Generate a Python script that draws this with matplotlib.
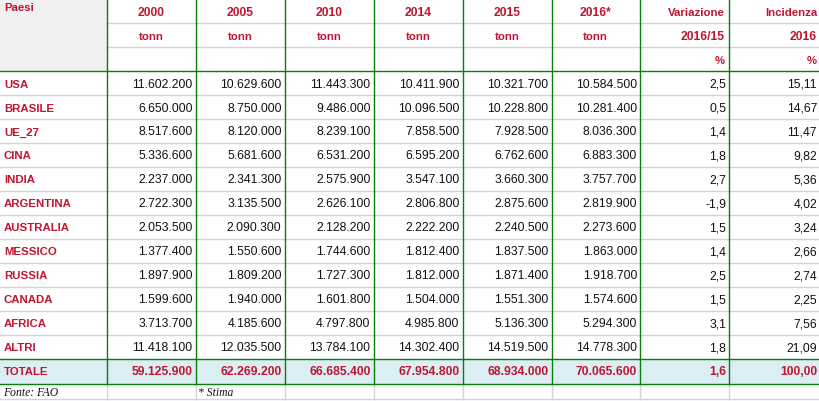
import matplotlib
matplotlib.use('Agg')
import matplotlib.pyplot as plt
from matplotlib.patches import Rectangle

paesi = ['USA', 'BRASILE', 'UE_27', 'CINA', 'INDIA', 'ARGENTINA', 'AUSTRALIA',
         'MESSICO', 'RUSSIA', 'CANADA', 'AFRICA', 'ALTRI']
anni = ['2000', '2005', '2010', '2014', '2015', '2016*']

v2000 = [11602200, 6650000, 8517600, 5336600, 2237000, 2722300, 2053500,
         1377400, 1897900, 1599600, 3713700, 11418100]
v2005 = [10629600, 8750000, 8120000, 5681600, 2341300, 3135500, 2090300,
         1550600, 1809200, 1940000, 4185600, 12035500]
v2010 = [11443300, 9486000, 8239100, 6531200, 2575900, 2626100, 2128200,
         1744600, 1727300, 1601800, 4797800, 13784100]
v2014 = [10411900, 10096500, 7858500, 6595200, 3547100, 2806800, 2222200,
         1812400, 1812000, 1504000, 4985800, 14302400]
v2015 = [10321700, 10228800, 7928500, 6762600, 3660300, 2875600, 2240500,
         1837500, 1871400, 1551300, 5136300, 14519500]
v2016 = [10584500, 10281400, 8036300, 6883300, 3757700, 2819900, 2273600,
         1863000, 1918700, 1574600, 5294300, 14778300]
variazione = [2.5, 0.5, 1.4, 1.8, 2.7, -1.9, 1.5, 1.4, 2.5, 1.5, 3.1, 1.8]
incidenza = [15.11, 14.67, 11.47, 9.82, 5.36, 4.02, 3.24, 2.66, 2.74, 2.25, 7.56, 21.09]

totali = [59125900, 62269200, 66685400, 67954800, 68934000, 70065600]
tot_var = 1.6
tot_inc = 100.00

RED = '#c0152f'
GREEN = '#0a7d0a'
GRAY = '#d4d4d4'
FS = 8.7   # cifre
FS_LAB = 8.2  # etichette in grassetto


def fmt_int(v):
    return f'{v:,}'.replace(',', '.')


def fmt_dec(v, n):
    return f'{v:.{n}f}'.replace('.', ',')


fig = plt.figure(figsize=(8.19, 4.02), dpi=100)
ax = fig.add_axes([0, 0, 1, 1])
ax.set_xlim(0, 819)
ax.set_ylim(402, 0)
ax.axis('off')

cols = [0, 106.5, 195.5, 284.5, 373.5, 462.5, 551.5, 640, 729, 819]
rh = 24
top_data = 72
tot_y = top_data + rh * len(paesi)
bottom = tot_y + 25

# fills
ax.add_patch(Rectangle((0, 0), cols[1], top_data, color='#f0f0f0', zorder=0))
ax.add_patch(Rectangle((0, tot_y), 819, 25, color='#dbeef3', zorder=0))

# gray horizontal lines
for y in [24, 48] + [top_data + rh * i for i in range(1, len(paesi))]:
    ax.plot([cols[1] if y < top_data else 0, 819], [y, y], color=GRAY, lw=1, zorder=1)
ax.plot([0, 819], [399.5, 399.5], color=GRAY, lw=1, zorder=1)
# gray vertical lines in the source row
for x in cols[1:-1]:
    ax.plot([x, x], [bottom, 400], color=GRAY, lw=1, zorder=1)
# green lines
for y in [top_data, tot_y, bottom]:
    ax.plot([0, 819], [y, y], color=GREEN, lw=1, zorder=2)
for x in cols[1:-1]:
    ax.plot([x, x], [0, bottom], color=GREEN, lw=1, zorder=2)

lab = dict(fontsize=FS_LAB, fontweight='bold', color=RED, family='Liberation Sans')
bold = dict(fontsize=FS, fontweight='bold', color=RED, family='Liberation Sans')
norm = dict(fontsize=FS, color='#111111', family='Liberation Sans')

# header
ax.text(4, 8, 'Paesi', ha='left', va='center', **lab)
for i, a in enumerate(anni):
    cx = (cols[i + 1] + cols[i + 2]) / 2
    ax.text(cx, 12.5, a, ha='center', va='center', **bold)
    ax.text(cx, 36.5, 'tonn', ha='center', va='center', **lab)
ax.text(cols[8] - 4, 12.5, 'Variazione', ha='right', va='center', **lab)
ax.text(cols[8] - 4, 36.5, '2016/15', ha='right', va='center', **bold)
ax.text(cols[8] - 4, 60.5, '%', ha='right', va='center', **lab)
ax.text(cols[9] - 2, 12.5, 'Incidenza', ha='right', va='center', **lab)
ax.text(cols[9] - 2, 36.5, '2016', ha='right', va='center', **bold)
ax.text(cols[9] - 2, 60.5, '%', ha='right', va='center', **lab)

# data rows
serie = [v2000, v2005, v2010, v2014, v2015, v2016]
for r, p in enumerate(paesi):
    cy = top_data + rh * r + rh / 2 + 0.5
    ax.text(4, cy, p, ha='left', va='center', **lab)
    for c, s in enumerate(serie):
        ax.text(cols[c + 2] - 3, cy, fmt_int(s[r]), ha='right', va='center', **norm)
    ax.text(cols[8] - 3, cy, fmt_dec(variazione[r], 1), ha='right', va='center', **norm)
    ax.text(cols[9] - 2, cy, fmt_dec(incidenza[r], 2), ha='right', va='center', **norm)

# totals
cy = tot_y + 12.5
ax.text(4, cy, 'TOTALE', ha='left', va='center', **lab)
for c, t in enumerate(totali):
    ax.text(cols[c + 2] - 3, cy, fmt_int(t), ha='right', va='center', **bold)
ax.text(cols[8] - 3, cy, fmt_dec(tot_var, 1), ha='right', va='center', **bold)
ax.text(cols[9] - 2, cy, fmt_dec(tot_inc, 2), ha='right', va='center', **bold)

# source
note = dict(fontsize=8.4, style='italic', color='#111111', family='Liberation Serif')
ax.text(3, 393.5, 'Fonte: FAO', ha='left', va='center', **note)
ax.text(cols[2] + 3, 393.5, '* Stima', ha='left', va='center', **note)

fig.savefig('out.png', dpi=100)
